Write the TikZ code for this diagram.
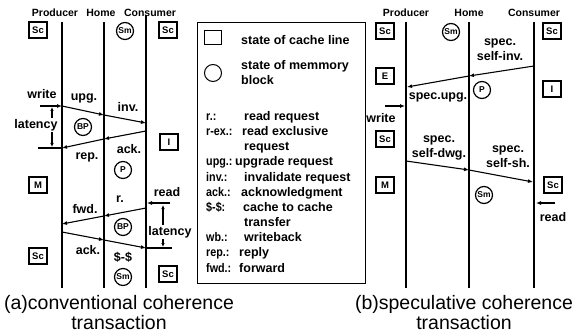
\documentclass[tikz,border=0pt]{standalone}
\usepackage{fontspec}
\usepackage{graphicx}
\setmainfont{Liberation Sans}
\usetikzlibrary{arrows.meta}

\begin{document}
\begin{tikzpicture}[x=1pt,y=-1pt,
  lbl/.style={font=\fontsize{12.5}{15}\selectfont\bfseries, inner sep=1pt},
  hdr/.style={font=\fontsize{10.5}{12}\selectfont\bfseries, inner sep=0pt},
  cline/.style={draw, line width=1.2pt, minimum width=18pt, minimum height=16pt, inner sep=0pt, font=\fontsize{9.5}{11}\selectfont\bfseries},
  mblock/.style={draw, circle, line width=1.2pt, minimum size=17pt, inner sep=0pt, font=\fontsize{8.5}{10}\selectfont\bfseries},
  msg/.style={-{Latex[length=5pt,width=4pt]}, line width=1.1pt},
  lat/.style={{Latex[length=4pt,width=3.5pt]}-{Latex[length=4pt,width=3.5pt]}, line width=1.1pt},
  life/.style={line width=1.6pt},
  capt/.style={font=\fontsize{19.5}{20}\selectfont, align=center}]
\useasboundingbox (0,0) rectangle (573,334);

% lifelines and headers
\foreach \n/\x/\t in {pa/62/22, ha/104/22, ca/146/15, pb/406/22, hb/469/22, cb/534/22}{
  \coordinate (\n top) at (\x,\t);
  \coordinate (\n bot) at (\x,288);
  \draw[life] (\n top) -- (\n bot);
}
\node[hdr] (hpa) at (55,13) {Producer};
\node[hdr] (hha) at (101,13) {Home};
\node[hdr] (hca) at (150,13) {Consumer};
\node[hdr] (hpb) at (406,13) {Producer};
\node[hdr] (hhb) at (469,13) {Home};
\node[hdr] (hcb) at (534,13) {Consumer};

% (a) states
\node[cline] (sa1) at (38,30) {Sc};
\node[mblock] (ma1) at (125,31) {Sm};
\node[cline] (sa2) at (168,30) {Sc};
\node[mblock] (ma2) at (83,127) {BP};
\node[cline] (sa3) at (169,142) {I};
\node[mblock] (ma3) at (123,170) {P};
\node[cline] (sa4) at (38,185) {M};
\node[mblock] (ma4) at (123,227) {BP};
\node[cline] (sa5) at (38,256) {Sc};
\node[mblock] (ma5) at (123,277) {Sm};
\node[cline] (sa6) at (168,274) {Sc};

% (a) messages
\coordinate (wa) at (40,106);
\coordinate (a1) at (62,106);
\coordinate (a2) at (104,115);
\coordinate (a3) at (146,123);
\coordinate (a4) at (146,131);
\coordinate (a5) at (104,139);
\coordinate (a6) at (62,148);
\coordinate (ta) at (38,148);
\coordinate (ra) at (170,203);
\coordinate (a7) at (147,203);
\coordinate (a8) at (146,208);
\coordinate (a9) at (104,216);
\coordinate (a10) at (62,224);
\coordinate (a11) at (62,232);
\coordinate (a12) at (104,240);
\coordinate (a13) at (146,248);
\coordinate (tb) at (172,248);
\coordinate (la1) at (52,107);
\coordinate (la2) at (52,147);
\coordinate (lb1) at (163,205);
\coordinate (lb2) at (163,247);

\draw[msg] (wa) -- (a1);
\draw[msg] (a1) -- (a2);
\draw[msg] (a2) -- (a3);
\draw[msg] (a4) -- (a5);
\draw[msg] (a5) -- (a6);
\draw[line width=1.1pt] (ta) -- (a6);
\draw[lat] (la1) -- (la2);
\draw[msg] (ra) -- (a7);
\draw[msg] (a8) -- (a9);
\draw[msg] (a9) -- (a10);
\draw[msg] (a11) -- (a12);
\draw[msg] (a12) -- (a13);
\draw[line width=1.1pt] (a13) -- (tb);
\draw[lat] (lb1) -- (lb2);

\node[lbl] (wra) at (42,94) {write};
\node[lbl, fill=white] (lta) at (36,125) {latency};
\node[lbl] (upg) at (84,98) {upg.};
\node[lbl] (inv) at (128,107) {inv.};
\node[lbl] (acka) at (129,149) {ack.};
\node[lbl] (rep) at (87,157) {rep.};
\node[lbl] (rda) at (167,192) {read};
\node[lbl] (rq) at (120,199) {r.};
\node[lbl] (fwd) at (85,209) {fwd.};
\node[lbl, fill=white] (ltb) at (170,232) {latency};
\node[lbl] (ackb) at (88,250) {ack.};
\node[lbl] (cc) at (123,257) {\$-\$};

% legend
\node[draw, line width=0.8pt, minimum width=168pt, minimum height=261pt] (legend) at (281,152.5) {};
\node[draw, line width=1pt, minimum width=17pt, minimum height=14pt] (ksq) at (213,38) {};
\node[draw, circle, line width=1pt, minimum size=17pt] (kci) at (213,73) {};
\node[lbl, anchor=base west] (kt1) at (240,44.5) {state of cache line};
\node[lbl, anchor=base west] (kt2) at (240,69.5) {state of memmory};
\node[lbl, anchor=base west] (kt3) at (240,84.5) {block};
\foreach \k/\d/\dx/\y [count=\i] in {r.:/read request/243/116, r-ex.:/read exclusive/241/131,
    /request/243/146, upg.:/upgrade request/234/161, inv.:/invalidate request/243/177,
    ack.:/acknowledgment/240/192, \$-\$:/cache to cache/242/207, /transfer/243/222,
    wb.:/writeback/243/237, rep.:/reply/238/252, fwd.:/forward/238/268}{
  \node[lbl, anchor=base west] (key\i) at (205,\y+4.5) {\scalebox{0.86}[1]{\k}};
  \node[lbl, anchor=base west] (def\i) at (\dx,\y+4.5) {\d};
}

% (b) states
\node[cline] (sb1) at (385,31) {Sc};
\node[mblock] (mb1) at (451,32) {Sm};
\node[cline] (sb2) at (552,31) {Sc};
\node[cline] (sb3) at (385,76) {E};
\node[mblock] (mb2) at (482,90) {P};
\node[cline] (sb4) at (552,89) {I};
\node[cline] (sb5) at (385,139) {Sc};
\node[cline] (sb6) at (385,185) {M};
\node[cline] (sb7) at (553,185) {Sc};
\node[mblock] (mb3) at (484,195) {Sm};

% (b) messages
\coordinate (b1) at (534,66);
\coordinate (b2) at (469,76);
\coordinate (b3) at (407,87);
\coordinate (wb) at (385,106);
\coordinate (b4) at (405,106);
\coordinate (b5) at (406,161);
\coordinate (b6) at (469,170);
\coordinate (b7) at (533,182);
\coordinate (rb) at (555,203);
\coordinate (b8) at (536,203);

\draw[msg] (b1) -- (b2);
\draw[msg] (b2) -- (b3);
\draw[msg] (wb) -- (b4);
\draw[msg] (b5) -- (b6);
\draw[msg] (b6) -- (b7);
\draw[msg] (rb) -- (b8);

\node[lbl, align=center] (sinv) at (500,50) {spec.\\self-inv.};
\node[lbl] (supg) at (438,97) {spec.upg.};
\node[lbl] (wrb) at (381,118) {write};
\node[lbl, align=center] (sdwg) at (439,148) {spec.\\self-dwg.};
\node[lbl, align=center] (ssh) at (508,157) {spec.\\self-sh.};
\node[lbl] (rdb) at (553,217) {read};

% captions
\node[capt] (capa) at (119,313) {(a)conventional coherence\\transaction};
\node[capt] (capb) at (464,313) {(b)speculative coherence\\transaction};
\end{tikzpicture}
\end{document}
